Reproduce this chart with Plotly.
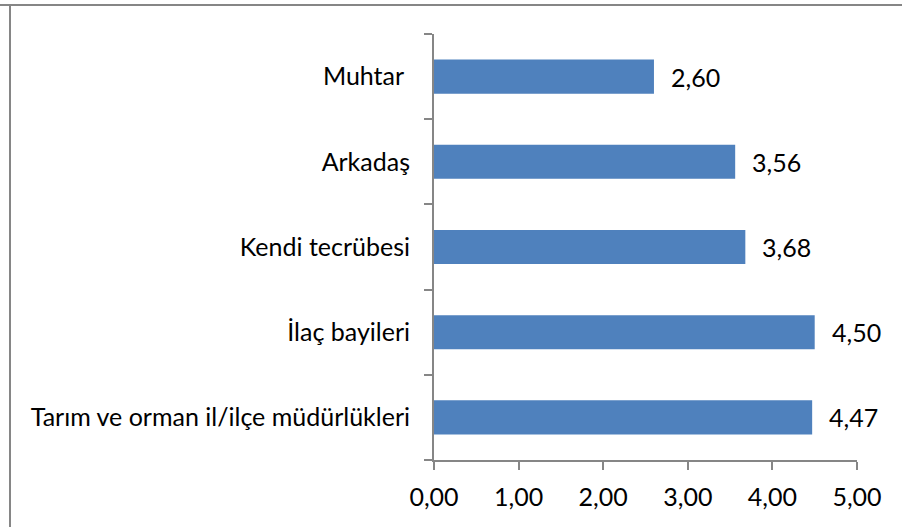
import plotly.graph_objects as go

categories = ["Tarım ve orman il/ilçe müdürlükleri", "İlaç bayileri", "Kendi tecrübesi", "Arkadaş", "Muhtar "]
values = [4.47, 4.50, 3.68, 3.56, 2.60]
x_ticks = [0, 1, 2, 3, 4, 5]
x_tick_labels = ["0,00", "1,00", "2,00", "3,00", "4,00", "5,00"]

def fmt(v):
    return f"{v:.2f}".replace(".", ",")

FONT = "Lato, Carlito, Calibri, sans-serif"
FS = 25
AX = "#868686"

fig = go.Figure(go.Bar(
    y=categories, x=values, orientation="h",
    marker=dict(color="#4F81BD", line=dict(width=0)),
    width=0.4, hoverinfo="skip",
))

for c, v in zip(categories, values):
    fig.add_annotation(x=v, y=c, text=fmt(v), showarrow=False, xanchor="left",
                       xshift=15, font=dict(family=FONT, size=FS, color="#000000"))

fig.update_layout(
    width=902, height=527,
    margin=dict(l=434, r=45, t=34, b=67),
    paper_bgcolor="white", plot_bgcolor="white",
    showlegend=False,
    font=dict(family=FONT, size=FS, color="#000000"),
    xaxis=dict(range=[0, 5], tickvals=x_ticks, ticktext=x_tick_labels,
               showgrid=False, zeroline=False, showline=True, linecolor=AX, linewidth=2,
               ticks="outside", ticklen=8, tickcolor=AX, tickwidth=2,
               ticklabelstandoff=6, tickfont=dict(family=FONT, size=FS, color="#000000")),
    yaxis=dict(categoryorder="array", categoryarray=categories,
               showgrid=False, zeroline=False, showline=True, linecolor=AX, linewidth=2,
               ticks="outside", ticklen=8, tickcolor=AX, tickwidth=2, tickson="boundaries",
               ticklabelstandoff=17, tickfont=dict(family=FONT, size=FS, color="#000000")),
    shapes=[
        dict(type="line", xref="paper", yref="paper", x0=-434/423, x1=1.2, y0=1+29/426, y1=1+29/426,
             line=dict(color=AX, width=2)),
        dict(type="line", xref="paper", yref="paper", x0=-424/423, x1=-424/423, y0=-0.3, y1=1+29/426,
             line=dict(color=AX, width=2)),
    ],
)

fig.write_html("out.html", config={"displayModeBar": False},
               post_script="document.body.style.margin='0';")
